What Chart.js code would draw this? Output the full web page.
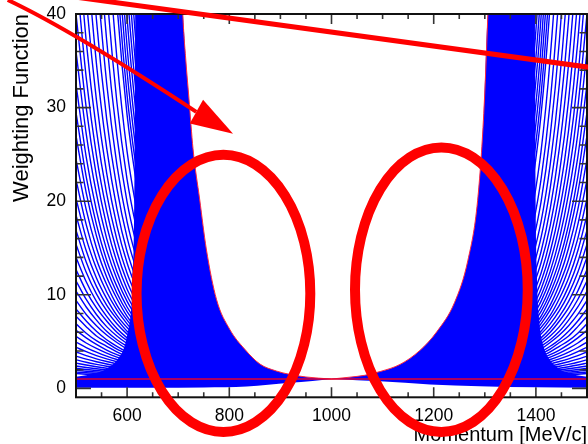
<!DOCTYPE html>
<html>
<head>
<meta charset="UTF-8">
<title>Weighting Function</title>
<script src="https://cdn.jsdelivr.net/npm/chart.js@4.4.0/dist/chart.umd.min.js"></script>
<style>
  body { margin: 0; background: #fff; }
  canvas { display: block; }
</style>
</head>
<body>
<canvas id="chart" width="588" height="444"></canvas>
<script>
// axis ticks
const xTickValues = [600, 800, 1000, 1200, 1400];
const yTickValues = [0, 10, 20, 30, 40];

// nominal weight line
const unityP = [500, 1500];
const unityW = [1, 1];

// sparse part of the fan, read near the left edge; the right side mirrors it
const fanPLeft = [500, 520, 540, 560, 580, 600, 625];
const fanPRight = [1500, 1482, 1464, 1446, 1428, 1410, 1387];
const fanCurves = [
  [528, 323, 202, 128, 83.4, 55.3, 34.0],
  [459, 284, 179, 115, 75.6, 50.6, 31.4],
  [403, 252, 160, 104, 69, 46.5, 29.2],
  [354, 223.6, 143.8, 94.2, 62.9, 42.8, 27.2],
  [314, 200, 130, 85.9, 57.8, 39.6, 25.4],
  [276, 177.5, 116.4, 77.7, 52.7, 36.5, 23.6],
  [245, 159, 105, 70.8, 48.5, 33.8, 22.1],
  [217, 142, 95, 64.5, 44.5, 31.3, 20.6],
  [194, 129, 86.6, 59.2, 41.2, 29.2, 19.4],
  [156, 105, 71.8, 49.9, 35.3, 25.3, 17.1],
  [127.7, 87.4, 60.6, 42.8, 30.6, 22.3, 15.3],
  [106.7, 74, 52.1, 37.2, 27, 19.9, 13.8],
  [90, 63.3, 45.1, 32.6, 23.9, 17.8, 12.6],
  [76.7, 54.6, 39.4, 28.8, 21.4, 16.1, 11.5],
  [66, 47.6, 34.7, 25.7, 19.2, 14.6, 10.6],
  [57.4, 41.8, 30.8, 23.0, 17.4, 13.4, 9.8],
  [50.4, 37.1, 27.6, 20.8, 15.9, 12.3, 9.1],
  [44.7, 33.2, 24.9, 19.0, 14.6, 11.4, 8.5],
  [40, 30.0, 22.7, 17.4, 13.5, 10.6, 8.0],
  [36, 27.2, 20.8, 16.0, 12.5, 9.9, 7.5],
  [32.5, 24.7, 19.0, 14.8, 11.7, 9.3, 7.1],
  [29.5, 22.6, 17.5, 13.7, 10.9, 8.7, 6.7],
  [27, 20.9, 16.3, 12.8, 10.2, 8.2, 6.4],
  [24.5, 19.1, 15.0, 11.9, 9.6, 7.7, 6.0],
  [22.3, 17.5, 13.8, 11.1, 8.9, 7.3, 5.7],
  [20.3, 16.0, 12.8, 10.3, 8.4, 6.9, 5.4],
  [18.5, 14.7, 11.8, 9.6, 7.8, 6.5, 5.2],
  [16.9, 13.5, 10.9, 8.9, 7.4, 6.1, 4.9],
  [15.4, 12.4, 10.1, 8.3, 6.9, 5.8, 4.7],
  [14, 11.4, 9.3, 7.7, 6.4, 5.4, 4.4],
  [12.7, 10.4, 8.6, 7.2, 6.0, 5.1, 4.2],
  [11.5, 9.5, 7.9, 6.6, 5.6, 4.8, 4.0],
  [10.4, 8.7, 7.3, 6.1, 5.2, 4.5, 3.7],
  [9.4, 7.9, 6.7, 5.7, 4.9, 4.2, 3.5],
  [8.5, 7.2, 6.1, 5.2, 4.5, 3.9, 3.3],
  [7.7, 6.6, 5.6, 4.9, 4.2, 3.7, 3.2],
  [6.9, 5.9, 5.1, 4.5, 3.9, 3.4, 3.0],
  [6.2, 5.4, 4.7, 4.1, 3.6, 3.2, 2.8],
  [5.55, 4.85, 4.27, 3.77, 3.35, 3.0, 2.62],
  [4.95, 4.37, 3.87, 3.45, 3.09, 2.78, 2.46],
  [4.4, 3.92, 3.5, 3.15, 2.85, 2.58, 2.3],
  [3.9, 3.5, 3.16, 2.87, 2.61, 2.39, 2.15],
  [3.45, 3.13, 2.85, 2.61, 2.4, 2.21, 2.01],
  [3.05, 2.79, 2.57, 2.37, 2.2, 2.04, 1.87],
  [2.7, 2.5, 2.32, 2.16, 2.02, 1.89, 1.75],
  [2.4, 2.24, 2.1, 1.97, 1.85, 1.75, 1.64],
  [2.15, 2.02, 1.91, 1.81, 1.72, 1.63, 1.54],
  [1.93, 1.83, 1.75, 1.66, 1.59, 1.52, 1.45],
  [1.74, 1.67, 1.6, 1.54, 1.48, 1.43, 1.37],
  [1.58, 1.52, 1.47, 1.42, 1.38, 1.34, 1.29]
];

// dense (solid) part of each fan; the inner side is the steepest curve
const leftDenseP = [500, 520, 540, 560, 580, 595, 605, 612, 616, 620, 690, 702, 709, 715, 721, 729, 742, 755, 775, 801, 830, 860, 892, 918, 950, 1000];
const leftDenseW = [1.25, 1.4, 1.65, 2.1, 3.0, 4.5, 7, 12, 40, 300, 300, 52, 40, 35, 31, 25.6, 20.2, 14.9, 9.5, 6.3, 4.2, 2.6, 1.86, 1.5, 1.22, 1];
const rightDenseP = [1000, 1036, 1065, 1095, 1134, 1173, 1206, 1241, 1267, 1286, 1298, 1306, 1313, 1322, 1394, 1398, 1402, 1407, 1415, 1428, 1445, 1462, 1480, 1500];
const rightDenseW = [1, 1.2, 1.4, 1.8, 2.56, 4.06, 6.05, 9.2, 13.7, 20.1, 29.4, 40, 52, 300, 300, 40, 12, 7, 4.5, 3.0, 2.1, 1.65, 1.4, 1.25];

// steepest curves (white-region edges)
const leftEdgeP = [702, 709, 715, 721, 729, 742, 755, 775, 801, 830, 860, 892, 918, 950, 1000];
const leftEdgeW = [52, 40, 35, 31, 25.6, 20.2, 14.9, 9.5, 6.3, 4.2, 2.6, 1.86, 1.5, 1.22, 1];
const rightEdgeP = [1000, 1036, 1065, 1095, 1134, 1173, 1206, 1241, 1267, 1286, 1298, 1306, 1313];
const rightEdgeW = [1, 1.2, 1.4, 1.8, 2.56, 4.06, 6.05, 9.2, 13.7, 20.1, 29.4, 40, 52];

// curves dipping below 1 (lower edge of the band under the red line)
const leftBandP = [500, 650, 750, 834, 918, 963, 1000];
const leftBandW = [0.06, 0.06, 0.1, 0.2, 0.6, 0.8, 1];
const rightBandP = [1000, 1050, 1095, 1193, 1290, 1400, 1500];
const rightBandW = [1, 0.88, 0.77, 0.43, 0.24, 0.12, 0.06];

const blue = 'rgb(0,0,255)';
const markRed = 'rgb(255,0,0)';
const edgeRed = 'rgb(255,40,60)';

Chart.defaults.font.family = "'Liberation Sans', Arial, sans-serif";
Chart.defaults.color = '#000';

function pts(ps, ws) {
  return ps.map((p, i) => ({x: p, y: ws[i]}));
}

const datasets = [];
datasets.push({data: pts(unityP, unityW), borderColor: 'rgb(225,0,50)', borderWidth: 1.6, fill: false});
datasets.push({data: pts(leftEdgeP, leftEdgeW), borderColor: edgeRed, borderWidth: 1, fill: false, cubicInterpolationMode: 'monotone'});
datasets.push({data: pts(rightEdgeP, rightEdgeW), borderColor: edgeRed, borderWidth: 1, fill: false, cubicInterpolationMode: 'monotone'});
datasets.push({data: pts(leftDenseP, leftDenseW), fill: {value: 1}, backgroundColor: blue, borderWidth: 0, cubicInterpolationMode: 'monotone'});
datasets.push({data: pts(rightDenseP, rightDenseW), fill: {value: 1}, backgroundColor: blue, borderWidth: 0, cubicInterpolationMode: 'monotone'});
datasets.push({data: pts(leftBandP, leftBandW), fill: {value: 1}, backgroundColor: blue, borderWidth: 0, cubicInterpolationMode: 'monotone'});
datasets.push({data: pts(rightBandP, rightBandW), fill: {value: 1}, backgroundColor: blue, borderWidth: 0, cubicInterpolationMode: 'monotone'});
fanCurves.forEach(ws => {
  datasets.push({data: pts(fanPLeft, ws), borderColor: blue, borderWidth: 1.4, fill: false, cubicInterpolationMode: 'monotone'});
  datasets.push({data: pts(fanPRight, ws), borderColor: blue, borderWidth: 1.4, fill: false, cubicInterpolationMode: 'monotone'});
});

// frame with inward ticks on all four sides
const frameTicks = {
  id: 'frameTicks',
  afterDatasetsDraw(chart) {
    const {ctx, chartArea: a, scales: {x, y}} = chart;
    ctx.save();
    ctx.strokeStyle = '#333';
    ctx.lineWidth = 1.6;
    ctx.beginPath();
    for (let v = 500; v <= 1500; v += 50) {
      const px = x.getPixelForValue(v);
      const len = xTickValues.includes(v) ? 10 : 5;
      ctx.moveTo(px, a.bottom); ctx.lineTo(px, a.bottom - len);
      ctx.moveTo(px, a.top); ctx.lineTo(px, a.top + len);
    }
    for (let v = 0; v <= 40; v += 2) {
      const py = y.getPixelForValue(v);
      const len = yTickValues.includes(v) ? 15 : 7.5;
      ctx.moveTo(a.left, py); ctx.lineTo(a.left + len, py);
      ctx.moveTo(a.right, py); ctx.lineTo(a.right - len, py);
    }
    ctx.stroke();
    ctx.strokeStyle = '#111';
    ctx.lineWidth = 2;
    ctx.strokeRect(a.left, a.top, a.right - a.left, a.bottom - a.top);
    ctx.restore();
  }
};

// hand-drawn red markup, placed in data coordinates
const circles = [
  {p: 788.5, w: 10.15, dp: 170, dw: 14.8},
  {p: 1215, w: 10.55, dp: 169, dw: 15.2}
];
const strike = {p0: 480, w0: 41.95, p1: 1520, w1: 34.19};
const arrow = {p0: 366.5, w0: 41.5, pc: 494.3, wc: 38.2, p1: 735.4, w1: 29.55,
  tip: [807.4, 27.2], b1: [748.7, 30.85], b2: [722.7, 28.3]};

const markup = {
  id: 'markup',
  afterDraw(chart) {
    const {ctx, scales: {x, y}} = chart;
    const X = v => x.getPixelForValue(v);
    const Y = v => y.getPixelForValue(v);
    ctx.save();
    ctx.strokeStyle = markRed;
    ctx.fillStyle = markRed;
    ctx.lineWidth = 10;
    circles.forEach(c => {
      ctx.beginPath();
      ctx.ellipse(X(c.p), Y(c.w), X(c.p + c.dp) - X(c.p), Y(c.w) - Y(c.w + c.dw), 0, 0, Math.PI * 2);
      ctx.stroke();
    });
    ctx.lineWidth = 5;
    ctx.beginPath();
    ctx.moveTo(X(strike.p0), Y(strike.w0));
    ctx.lineTo(X(strike.p1), Y(strike.w1));
    ctx.stroke();
    ctx.lineWidth = 4;
    ctx.beginPath();
    ctx.moveTo(X(arrow.p0), Y(arrow.w0));
    ctx.quadraticCurveTo(X(arrow.pc), Y(arrow.wc), X(arrow.p1), Y(arrow.w1));
    ctx.stroke();
    ctx.beginPath();
    ctx.moveTo(X(arrow.tip[0]), Y(arrow.tip[1]));
    ctx.lineTo(X(arrow.b1[0]), Y(arrow.b1[1]));
    ctx.lineTo(X(arrow.b2[0]), Y(arrow.b2[1]));
    ctx.closePath();
    ctx.fill();
    ctx.restore();
  }
};

new Chart(document.getElementById('chart'), {
  type: 'line',
  data: {datasets: datasets},
  options: {
    responsive: false,
    animation: false,
    layout: {padding: {top: 14, right: 1, left: 0, bottom: 0}},
    elements: {point: {radius: 0}, line: {borderCapStyle: 'butt'}},
    plugins: {legend: {display: false}, tooltip: {enabled: false}},
    scales: {
      x: {
        type: 'linear', min: 500, max: 1500,
        grid: {display: false, drawTicks: false},
        border: {display: false},
        afterBuildTicks: s => { s.ticks = xTickValues.map(v => ({value: v})); },
        afterFit: s => { s.height = 46.7; s.paddingLeft = 0; s.paddingRight = 0; },
        ticks: {font: {size: 17.5}, color: '#000', padding: 8, maxRotation: 0, autoSkip: false,
                callback: v => String(v)},
        title: {display: true, text: 'Momentum [MeV/c]', align: 'end', color: '#000',
                font: {size: 20}, padding: {top: 0, bottom: -3}}
      },
      y: {
        type: 'linear', min: -0.95, max: 40,
        grid: {display: false, drawTicks: false},
        border: {display: false},
        afterBuildTicks: s => { s.ticks = yTickValues.map(v => ({value: v})); },
        afterFit: s => { s.width = 76; s.paddingTop = 0; s.paddingBottom = 0; },
        ticks: {font: {size: 17.5}, color: '#000', padding: 10, autoSkip: false,
                callback: v => String(v)},
        title: {display: true, text: 'Weighting Function', align: 'end', color: '#000',
                font: {size: 22}, padding: {top: 9, bottom: 0}}
      }
    }
  },
  plugins: [frameTicks, markup]
});
</script>
</body>
</html>
